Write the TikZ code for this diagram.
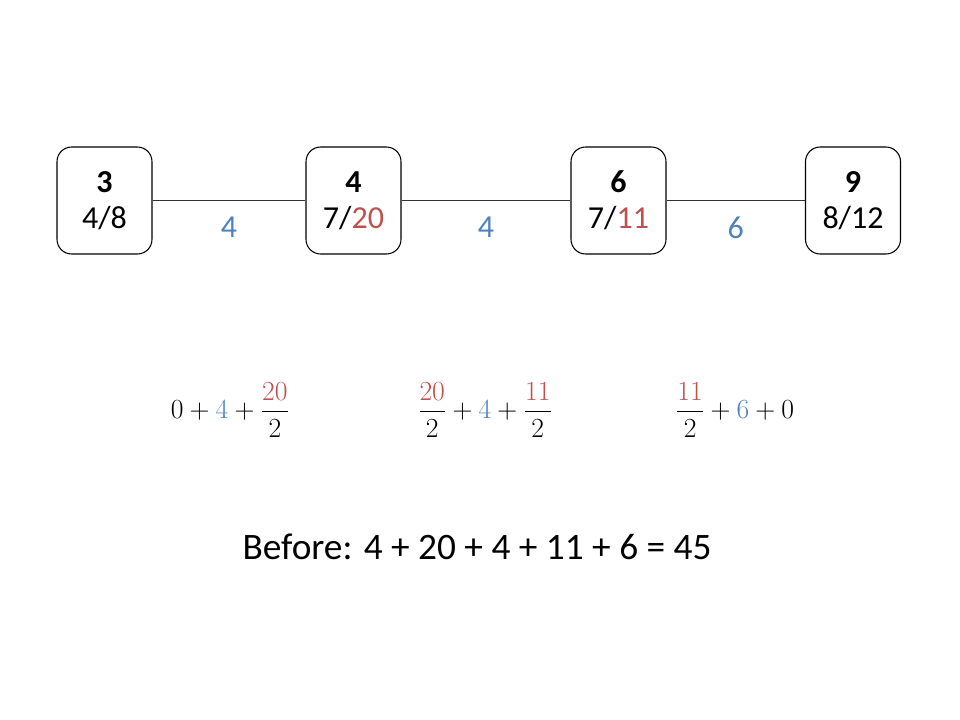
\documentclass[tikz,border=0pt]{standalone}
\usepackage{fontspec}
\setmainfont{Carlito}
\usepackage{amsmath}
\definecolor{edgeblue}{HTML}{4F81BD}
\definecolor{costred}{HTML}{C0504D}

\begin{document}
\begin{tikzpicture}[
            x=0.75pt, y=-0.75pt,
            vertex/.style={
                rectangle,
                rounded corners=11pt,
                draw=black,
                line width=0.8pt,
                minimum width=71.25pt,
                minimum height=80.25pt,
                align=center,
                font=\fontsize{24}{27}\selectfont
            },
            link/.style={draw=black!80, line width=0.8pt},
            weight/.style={
                text=edgeblue,
                font=\fontsize{24}{28}\selectfont
            },
            formula/.style={
                font=\fontsize{20}{24}\selectfont
            },
            total/.style={
                font=\fontsize{28}{34}\selectfont
            }
        ]
        \useasboundingbox (0,0) rectangle (960,720);

        % Vertices
        \node[vertex] (v1) at (104.5,200.5) {\textbf{3}\\4/8};
        \node[vertex] (v2) at (353.5,200.5) {\textbf{4}\\7/\textcolor{costred}{20}};
        \node[vertex] (v3) at (618.5,200.5) {\textbf{6}\\7/\textcolor{costred}{11}};
        \node[vertex] (v4) at (853,200.5) {\textbf{9}\\8/12};

        % Edges with weights
        \draw[link] (v1.east) -- node[weight, below=8.5pt] (w1) {4} (v2.west);
        \draw[link] (v2.east) -- node[weight, below=8.5pt] (w2) {4} (v3.west);
        \draw[link] (v3.east) -- node[weight, below=8.5pt] (w3) {6} (v4.west);

        % Per-edge sums
        \node[formula] (f1) at (230,410) {$0+\textcolor{edgeblue}{4}+\dfrac{\textcolor{costred}{20}}{2}$};
        \node[formula] (f2) at (485,410) {$\dfrac{\textcolor{costred}{20}}{2}+\textcolor{edgeblue}{4}+\dfrac{\textcolor{costred}{11}}{2}$};
        \node[formula] (f3) at (735,410) {$\dfrac{\textcolor{costred}{11}}{2}+\textcolor{edgeblue}{6}+0$};

        % Total
        \node[total] (before) at (477,547) {Before: 4 + 20 + 4 + 11 + 6 = 45};

        \end{tikzpicture}
\end{document}
